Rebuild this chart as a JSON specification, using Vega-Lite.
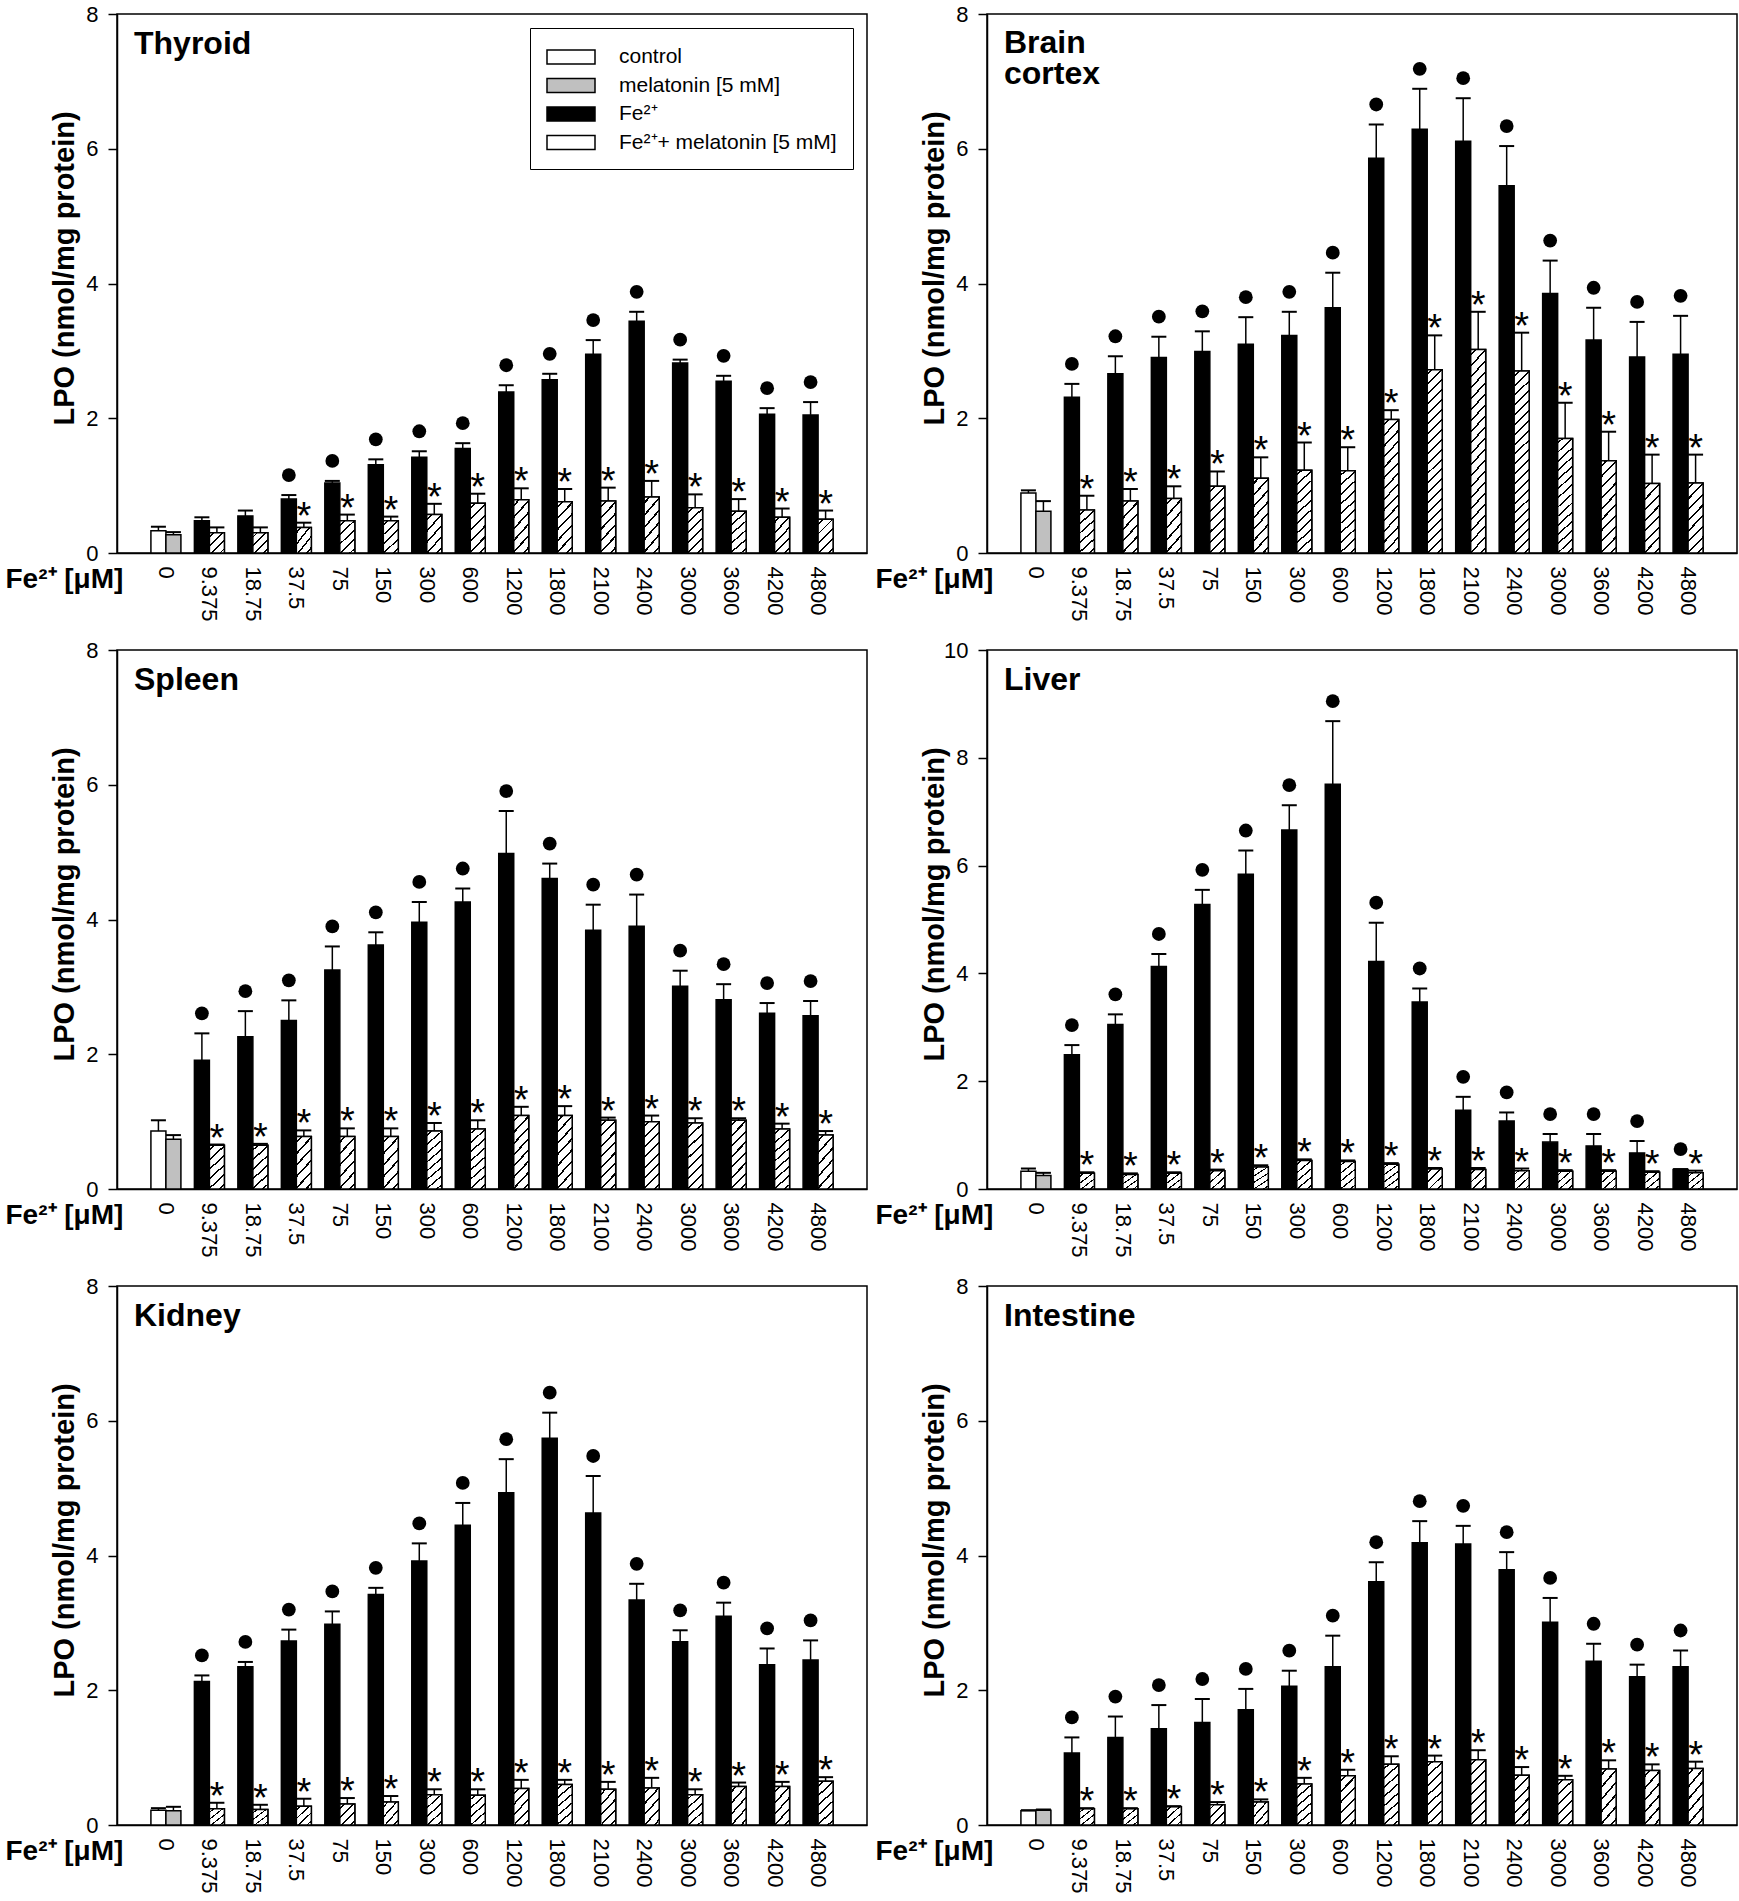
{
  "$schema": "https://vega.github.io/schema/vega-lite/v6.json",
  "description": "Fe2+ induced lipid peroxidation (LPO) in six rat tissues, with and without melatonin.",
  "padding": {"left": 4, "top": 2, "right": 2, "bottom": 0},
  "background": "white",
  "datasets": {
    "lpo": [
      {"organ":"Thyroid","conc":0,"group":"control","mel":"no","lpo":0.33,"hi":0.39,"sig":0},
      {"organ":"Thyroid","conc":0,"group":"melatonin [5 mM]","mel":"yes","lpo":0.27,"hi":0.31,"sig":0},
      {"organ":"Thyroid","conc":9.375,"group":"Fe²⁺","mel":"no","lpo":0.48,"hi":0.53,"sig":0},
      {"organ":"Thyroid","conc":9.375,"group":"Fe²⁺+ melatonin [5 mM]","mel":"yes","lpo":0.30,"hi":0.38,"sig":0},
      {"organ":"Thyroid","conc":18.75,"group":"Fe²⁺","mel":"no","lpo":0.55,"hi":0.63,"sig":0},
      {"organ":"Thyroid","conc":18.75,"group":"Fe²⁺+ melatonin [5 mM]","mel":"yes","lpo":0.30,"hi":0.38,"sig":0},
      {"organ":"Thyroid","conc":37.5,"group":"Fe²⁺","mel":"no","lpo":0.80,"hi":0.86,"sig":1},
      {"organ":"Thyroid","conc":37.5,"group":"Fe²⁺+ melatonin [5 mM]","mel":"yes","lpo":0.38,"hi":0.45,"sig":1},
      {"organ":"Thyroid","conc":75,"group":"Fe²⁺","mel":"no","lpo":1.04,"hi":1.07,"sig":1},
      {"organ":"Thyroid","conc":75,"group":"Fe²⁺+ melatonin [5 mM]","mel":"yes","lpo":0.48,"hi":0.57,"sig":1},
      {"organ":"Thyroid","conc":150,"group":"Fe²⁺","mel":"no","lpo":1.31,"hi":1.39,"sig":1},
      {"organ":"Thyroid","conc":150,"group":"Fe²⁺+ melatonin [5 mM]","mel":"yes","lpo":0.48,"hi":0.54,"sig":1},
      {"organ":"Thyroid","conc":300,"group":"Fe²⁺","mel":"no","lpo":1.42,"hi":1.51,"sig":1},
      {"organ":"Thyroid","conc":300,"group":"Fe²⁺+ melatonin [5 mM]","mel":"yes","lpo":0.57,"hi":0.73,"sig":1},
      {"organ":"Thyroid","conc":600,"group":"Fe²⁺","mel":"no","lpo":1.55,"hi":1.63,"sig":1},
      {"organ":"Thyroid","conc":600,"group":"Fe²⁺+ melatonin [5 mM]","mel":"yes","lpo":0.74,"hi":0.88,"sig":1},
      {"organ":"Thyroid","conc":1200,"group":"Fe²⁺","mel":"no","lpo":2.39,"hi":2.49,"sig":1},
      {"organ":"Thyroid","conc":1200,"group":"Fe²⁺+ melatonin [5 mM]","mel":"yes","lpo":0.79,"hi":0.96,"sig":1},
      {"organ":"Thyroid","conc":1800,"group":"Fe²⁺","mel":"no","lpo":2.57,"hi":2.66,"sig":1},
      {"organ":"Thyroid","conc":1800,"group":"Fe²⁺+ melatonin [5 mM]","mel":"yes","lpo":0.76,"hi":0.95,"sig":1},
      {"organ":"Thyroid","conc":2100,"group":"Fe²⁺","mel":"no","lpo":2.95,"hi":3.16,"sig":1},
      {"organ":"Thyroid","conc":2100,"group":"Fe²⁺+ melatonin [5 mM]","mel":"yes","lpo":0.77,"hi":0.97,"sig":1},
      {"organ":"Thyroid","conc":2400,"group":"Fe²⁺","mel":"no","lpo":3.44,"hi":3.58,"sig":1},
      {"organ":"Thyroid","conc":2400,"group":"Fe²⁺+ melatonin [5 mM]","mel":"yes","lpo":0.83,"hi":1.07,"sig":1},
      {"organ":"Thyroid","conc":3000,"group":"Fe²⁺","mel":"no","lpo":2.82,"hi":2.87,"sig":1},
      {"organ":"Thyroid","conc":3000,"group":"Fe²⁺+ melatonin [5 mM]","mel":"yes","lpo":0.67,"hi":0.87,"sig":1},
      {"organ":"Thyroid","conc":3600,"group":"Fe²⁺","mel":"no","lpo":2.55,"hi":2.63,"sig":1},
      {"organ":"Thyroid","conc":3600,"group":"Fe²⁺+ melatonin [5 mM]","mel":"yes","lpo":0.62,"hi":0.80,"sig":1},
      {"organ":"Thyroid","conc":4200,"group":"Fe²⁺","mel":"no","lpo":2.06,"hi":2.15,"sig":1},
      {"organ":"Thyroid","conc":4200,"group":"Fe²⁺+ melatonin [5 mM]","mel":"yes","lpo":0.53,"hi":0.66,"sig":1},
      {"organ":"Thyroid","conc":4800,"group":"Fe²⁺","mel":"no","lpo":2.05,"hi":2.24,"sig":1},
      {"organ":"Thyroid","conc":4800,"group":"Fe²⁺+ melatonin [5 mM]","mel":"yes","lpo":0.50,"hi":0.63,"sig":1},

      {"organ":"Brain cortex","conc":0,"group":"control","mel":"no","lpo":0.89,"hi":0.93,"sig":0},
      {"organ":"Brain cortex","conc":0,"group":"melatonin [5 mM]","mel":"yes","lpo":0.62,"hi":0.77,"sig":0},
      {"organ":"Brain cortex","conc":9.375,"group":"Fe²⁺","mel":"no","lpo":2.31,"hi":2.51,"sig":1},
      {"organ":"Brain cortex","conc":9.375,"group":"Fe²⁺+ melatonin [5 mM]","mel":"yes","lpo":0.64,"hi":0.85,"sig":1},
      {"organ":"Brain cortex","conc":18.75,"group":"Fe²⁺","mel":"no","lpo":2.66,"hi":2.92,"sig":1},
      {"organ":"Brain cortex","conc":18.75,"group":"Fe²⁺+ melatonin [5 mM]","mel":"yes","lpo":0.77,"hi":0.95,"sig":1},
      {"organ":"Brain cortex","conc":37.5,"group":"Fe²⁺","mel":"no","lpo":2.90,"hi":3.21,"sig":1},
      {"organ":"Brain cortex","conc":37.5,"group":"Fe²⁺+ melatonin [5 mM]","mel":"yes","lpo":0.81,"hi":0.99,"sig":1},
      {"organ":"Brain cortex","conc":75,"group":"Fe²⁺","mel":"no","lpo":2.99,"hi":3.29,"sig":1},
      {"organ":"Brain cortex","conc":75,"group":"Fe²⁺+ melatonin [5 mM]","mel":"yes","lpo":0.99,"hi":1.21,"sig":1},
      {"organ":"Brain cortex","conc":150,"group":"Fe²⁺","mel":"no","lpo":3.10,"hi":3.50,"sig":1},
      {"organ":"Brain cortex","conc":150,"group":"Fe²⁺+ melatonin [5 mM]","mel":"yes","lpo":1.11,"hi":1.42,"sig":1},
      {"organ":"Brain cortex","conc":300,"group":"Fe²⁺","mel":"no","lpo":3.23,"hi":3.58,"sig":1},
      {"organ":"Brain cortex","conc":300,"group":"Fe²⁺+ melatonin [5 mM]","mel":"yes","lpo":1.23,"hi":1.64,"sig":1},
      {"organ":"Brain cortex","conc":600,"group":"Fe²⁺","mel":"no","lpo":3.64,"hi":4.16,"sig":1},
      {"organ":"Brain cortex","conc":600,"group":"Fe²⁺+ melatonin [5 mM]","mel":"yes","lpo":1.22,"hi":1.57,"sig":1},
      {"organ":"Brain cortex","conc":1200,"group":"Fe²⁺","mel":"no","lpo":5.86,"hi":6.36,"sig":1},
      {"organ":"Brain cortex","conc":1200,"group":"Fe²⁺+ melatonin [5 mM]","mel":"yes","lpo":1.98,"hi":2.12,"sig":1},
      {"organ":"Brain cortex","conc":1800,"group":"Fe²⁺","mel":"no","lpo":6.29,"hi":6.89,"sig":1},
      {"organ":"Brain cortex","conc":1800,"group":"Fe²⁺+ melatonin [5 mM]","mel":"yes","lpo":2.72,"hi":3.23,"sig":1},
      {"organ":"Brain cortex","conc":2100,"group":"Fe²⁺","mel":"no","lpo":6.11,"hi":6.75,"sig":1},
      {"organ":"Brain cortex","conc":2100,"group":"Fe²⁺+ melatonin [5 mM]","mel":"yes","lpo":3.02,"hi":3.58,"sig":1},
      {"organ":"Brain cortex","conc":2400,"group":"Fe²⁺","mel":"no","lpo":5.45,"hi":6.04,"sig":1},
      {"organ":"Brain cortex","conc":2400,"group":"Fe²⁺+ melatonin [5 mM]","mel":"yes","lpo":2.70,"hi":3.27,"sig":1},
      {"organ":"Brain cortex","conc":3000,"group":"Fe²⁺","mel":"no","lpo":3.85,"hi":4.34,"sig":1},
      {"organ":"Brain cortex","conc":3000,"group":"Fe²⁺+ melatonin [5 mM]","mel":"yes","lpo":1.70,"hi":2.23,"sig":1},
      {"organ":"Brain cortex","conc":3600,"group":"Fe²⁺","mel":"no","lpo":3.16,"hi":3.64,"sig":1},
      {"organ":"Brain cortex","conc":3600,"group":"Fe²⁺+ melatonin [5 mM]","mel":"yes","lpo":1.37,"hi":1.80,"sig":1},
      {"organ":"Brain cortex","conc":4200,"group":"Fe²⁺","mel":"no","lpo":2.91,"hi":3.43,"sig":1},
      {"organ":"Brain cortex","conc":4200,"group":"Fe²⁺+ melatonin [5 mM]","mel":"yes","lpo":1.03,"hi":1.46,"sig":1},
      {"organ":"Brain cortex","conc":4800,"group":"Fe²⁺","mel":"no","lpo":2.95,"hi":3.52,"sig":1},
      {"organ":"Brain cortex","conc":4800,"group":"Fe²⁺+ melatonin [5 mM]","mel":"yes","lpo":1.04,"hi":1.46,"sig":1},

      {"organ":"Spleen","conc":0,"group":"control","mel":"no","lpo":0.86,"hi":1.02,"sig":0},
      {"organ":"Spleen","conc":0,"group":"melatonin [5 mM]","mel":"yes","lpo":0.74,"hi":0.80,"sig":0},
      {"organ":"Spleen","conc":9.375,"group":"Fe²⁺","mel":"no","lpo":1.91,"hi":2.31,"sig":1},
      {"organ":"Spleen","conc":9.375,"group":"Fe²⁺+ melatonin [5 mM]","mel":"yes","lpo":0.65,"hi":0.66,"sig":1},
      {"organ":"Spleen","conc":18.75,"group":"Fe²⁺","mel":"no","lpo":2.26,"hi":2.64,"sig":1},
      {"organ":"Spleen","conc":18.75,"group":"Fe²⁺+ melatonin [5 mM]","mel":"yes","lpo":0.65,"hi":0.67,"sig":1},
      {"organ":"Spleen","conc":37.5,"group":"Fe²⁺","mel":"no","lpo":2.50,"hi":2.80,"sig":1},
      {"organ":"Spleen","conc":37.5,"group":"Fe²⁺+ melatonin [5 mM]","mel":"yes","lpo":0.78,"hi":0.87,"sig":1},
      {"organ":"Spleen","conc":75,"group":"Fe²⁺","mel":"no","lpo":3.25,"hi":3.60,"sig":1},
      {"organ":"Spleen","conc":75,"group":"Fe²⁺+ melatonin [5 mM]","mel":"yes","lpo":0.78,"hi":0.90,"sig":1},
      {"organ":"Spleen","conc":150,"group":"Fe²⁺","mel":"no","lpo":3.62,"hi":3.81,"sig":1},
      {"organ":"Spleen","conc":150,"group":"Fe²⁺+ melatonin [5 mM]","mel":"yes","lpo":0.78,"hi":0.90,"sig":1},
      {"organ":"Spleen","conc":300,"group":"Fe²⁺","mel":"no","lpo":3.96,"hi":4.26,"sig":1},
      {"organ":"Spleen","conc":300,"group":"Fe²⁺+ melatonin [5 mM]","mel":"yes","lpo":0.86,"hi":0.98,"sig":1},
      {"organ":"Spleen","conc":600,"group":"Fe²⁺","mel":"no","lpo":4.26,"hi":4.46,"sig":1},
      {"organ":"Spleen","conc":600,"group":"Fe²⁺+ melatonin [5 mM]","mel":"yes","lpo":0.89,"hi":1.02,"sig":1},
      {"organ":"Spleen","conc":1200,"group":"Fe²⁺","mel":"no","lpo":4.98,"hi":5.61,"sig":1},
      {"organ":"Spleen","conc":1200,"group":"Fe²⁺+ melatonin [5 mM]","mel":"yes","lpo":1.09,"hi":1.22,"sig":1},
      {"organ":"Spleen","conc":1800,"group":"Fe²⁺","mel":"no","lpo":4.61,"hi":4.83,"sig":1},
      {"organ":"Spleen","conc":1800,"group":"Fe²⁺+ melatonin [5 mM]","mel":"yes","lpo":1.09,"hi":1.23,"sig":1},
      {"organ":"Spleen","conc":2100,"group":"Fe²⁺","mel":"no","lpo":3.84,"hi":4.22,"sig":1},
      {"organ":"Spleen","conc":2100,"group":"Fe²⁺+ melatonin [5 mM]","mel":"yes","lpo":1.02,"hi":1.06,"sig":1},
      {"organ":"Spleen","conc":2400,"group":"Fe²⁺","mel":"no","lpo":3.90,"hi":4.37,"sig":1},
      {"organ":"Spleen","conc":2400,"group":"Fe²⁺+ melatonin [5 mM]","mel":"yes","lpo":1.00,"hi":1.09,"sig":1},
      {"organ":"Spleen","conc":3000,"group":"Fe²⁺","mel":"no","lpo":3.01,"hi":3.24,"sig":1},
      {"organ":"Spleen","conc":3000,"group":"Fe²⁺+ melatonin [5 mM]","mel":"yes","lpo":0.98,"hi":1.05,"sig":1},
      {"organ":"Spleen","conc":3600,"group":"Fe²⁺","mel":"no","lpo":2.81,"hi":3.04,"sig":1},
      {"organ":"Spleen","conc":3600,"group":"Fe²⁺+ melatonin [5 mM]","mel":"yes","lpo":1.02,"hi":1.05,"sig":1},
      {"organ":"Spleen","conc":4200,"group":"Fe²⁺","mel":"no","lpo":2.61,"hi":2.76,"sig":1},
      {"organ":"Spleen","conc":4200,"group":"Fe²⁺+ melatonin [5 mM]","mel":"yes","lpo":0.89,"hi":0.97,"sig":1},
      {"organ":"Spleen","conc":4800,"group":"Fe²⁺","mel":"no","lpo":2.57,"hi":2.79,"sig":1},
      {"organ":"Spleen","conc":4800,"group":"Fe²⁺+ melatonin [5 mM]","mel":"yes","lpo":0.80,"hi":0.86,"sig":1},

      {"organ":"Liver","conc":0,"group":"control","mel":"no","lpo":0.33,"hi":0.38,"sig":0},
      {"organ":"Liver","conc":0,"group":"melatonin [5 mM]","mel":"yes","lpo":0.25,"hi":0.30,"sig":0},
      {"organ":"Liver","conc":9.375,"group":"Fe²⁺","mel":"no","lpo":2.49,"hi":2.67,"sig":1},
      {"organ":"Liver","conc":9.375,"group":"Fe²⁺+ melatonin [5 mM]","mel":"yes","lpo":0.29,"hi":0.31,"sig":1},
      {"organ":"Liver","conc":18.75,"group":"Fe²⁺","mel":"no","lpo":3.05,"hi":3.24,"sig":1},
      {"organ":"Liver","conc":18.75,"group":"Fe²⁺+ melatonin [5 mM]","mel":"yes","lpo":0.27,"hi":0.29,"sig":1},
      {"organ":"Liver","conc":37.5,"group":"Fe²⁺","mel":"no","lpo":4.13,"hi":4.36,"sig":1},
      {"organ":"Liver","conc":37.5,"group":"Fe²⁺+ melatonin [5 mM]","mel":"yes","lpo":0.29,"hi":0.31,"sig":1},
      {"organ":"Liver","conc":75,"group":"Fe²⁺","mel":"no","lpo":5.28,"hi":5.55,"sig":1},
      {"organ":"Liver","conc":75,"group":"Fe²⁺+ melatonin [5 mM]","mel":"yes","lpo":0.34,"hi":0.36,"sig":1},
      {"organ":"Liver","conc":150,"group":"Fe²⁺","mel":"no","lpo":5.84,"hi":6.28,"sig":1},
      {"organ":"Liver","conc":150,"group":"Fe²⁺+ melatonin [5 mM]","mel":"yes","lpo":0.41,"hi":0.44,"sig":1},
      {"organ":"Liver","conc":300,"group":"Fe²⁺","mel":"no","lpo":6.66,"hi":7.12,"sig":1},
      {"organ":"Liver","conc":300,"group":"Fe²⁺+ melatonin [5 mM]","mel":"yes","lpo":0.53,"hi":0.55,"sig":1},
      {"organ":"Liver","conc":600,"group":"Fe²⁺","mel":"no","lpo":7.51,"hi":8.68,"sig":1},
      {"organ":"Liver","conc":600,"group":"Fe²⁺+ melatonin [5 mM]","mel":"yes","lpo":0.51,"hi":0.53,"sig":1},
      {"organ":"Liver","conc":1200,"group":"Fe²⁺","mel":"no","lpo":4.22,"hi":4.94,"sig":1},
      {"organ":"Liver","conc":1200,"group":"Fe²⁺+ melatonin [5 mM]","mel":"yes","lpo":0.46,"hi":0.48,"sig":1},
      {"organ":"Liver","conc":1800,"group":"Fe²⁺","mel":"no","lpo":3.47,"hi":3.72,"sig":1},
      {"organ":"Liver","conc":1800,"group":"Fe²⁺+ melatonin [5 mM]","mel":"yes","lpo":0.37,"hi":0.39,"sig":1},
      {"organ":"Liver","conc":2100,"group":"Fe²⁺","mel":"no","lpo":1.46,"hi":1.71,"sig":1},
      {"organ":"Liver","conc":2100,"group":"Fe²⁺+ melatonin [5 mM]","mel":"yes","lpo":0.36,"hi":0.39,"sig":1},
      {"organ":"Liver","conc":2400,"group":"Fe²⁺","mel":"no","lpo":1.26,"hi":1.42,"sig":1},
      {"organ":"Liver","conc":2400,"group":"Fe²⁺+ melatonin [5 mM]","mel":"yes","lpo":0.34,"hi":0.38,"sig":1},
      {"organ":"Liver","conc":3000,"group":"Fe²⁺","mel":"no","lpo":0.87,"hi":1.02,"sig":1},
      {"organ":"Liver","conc":3000,"group":"Fe²⁺+ melatonin [5 mM]","mel":"yes","lpo":0.33,"hi":0.35,"sig":1},
      {"organ":"Liver","conc":3600,"group":"Fe²⁺","mel":"no","lpo":0.80,"hi":1.02,"sig":1},
      {"organ":"Liver","conc":3600,"group":"Fe²⁺+ melatonin [5 mM]","mel":"yes","lpo":0.33,"hi":0.35,"sig":1},
      {"organ":"Liver","conc":4200,"group":"Fe²⁺","mel":"no","lpo":0.67,"hi":0.89,"sig":1},
      {"organ":"Liver","conc":4200,"group":"Fe²⁺+ melatonin [5 mM]","mel":"yes","lpo":0.31,"hi":0.33,"sig":1},
      {"organ":"Liver","conc":4800,"group":"Fe²⁺","mel":"no","lpo":0.36,"hi":0.37,"sig":1},
      {"organ":"Liver","conc":4800,"group":"Fe²⁺+ melatonin [5 mM]","mel":"yes","lpo":0.30,"hi":0.34,"sig":1},

      {"organ":"Kidney","conc":0,"group":"control","mel":"no","lpo":0.22,"hi":0.25,"sig":0},
      {"organ":"Kidney","conc":0,"group":"melatonin [5 mM]","mel":"yes","lpo":0.21,"hi":0.27,"sig":0},
      {"organ":"Kidney","conc":9.375,"group":"Fe²⁺","mel":"no","lpo":2.13,"hi":2.22,"sig":1},
      {"organ":"Kidney","conc":9.375,"group":"Fe²⁺+ melatonin [5 mM]","mel":"yes","lpo":0.24,"hi":0.33,"sig":1},
      {"organ":"Kidney","conc":18.75,"group":"Fe²⁺","mel":"no","lpo":2.35,"hi":2.42,"sig":1},
      {"organ":"Kidney","conc":18.75,"group":"Fe²⁺+ melatonin [5 mM]","mel":"yes","lpo":0.23,"hi":0.30,"sig":1},
      {"organ":"Kidney","conc":37.5,"group":"Fe²⁺","mel":"no","lpo":2.73,"hi":2.90,"sig":1},
      {"organ":"Kidney","conc":37.5,"group":"Fe²⁺+ melatonin [5 mM]","mel":"yes","lpo":0.28,"hi":0.39,"sig":1},
      {"organ":"Kidney","conc":75,"group":"Fe²⁺","mel":"no","lpo":2.98,"hi":3.17,"sig":1},
      {"organ":"Kidney","conc":75,"group":"Fe²⁺+ melatonin [5 mM]","mel":"yes","lpo":0.31,"hi":0.40,"sig":1},
      {"organ":"Kidney","conc":150,"group":"Fe²⁺","mel":"no","lpo":3.42,"hi":3.52,"sig":1},
      {"organ":"Kidney","conc":150,"group":"Fe²⁺+ melatonin [5 mM]","mel":"yes","lpo":0.34,"hi":0.43,"sig":1},
      {"organ":"Kidney","conc":300,"group":"Fe²⁺","mel":"no","lpo":3.92,"hi":4.18,"sig":1},
      {"organ":"Kidney","conc":300,"group":"Fe²⁺+ melatonin [5 mM]","mel":"yes","lpo":0.45,"hi":0.53,"sig":1},
      {"organ":"Kidney","conc":600,"group":"Fe²⁺","mel":"no","lpo":4.45,"hi":4.78,"sig":1},
      {"organ":"Kidney","conc":600,"group":"Fe²⁺+ melatonin [5 mM]","mel":"yes","lpo":0.44,"hi":0.53,"sig":1},
      {"organ":"Kidney","conc":1200,"group":"Fe²⁺","mel":"no","lpo":4.93,"hi":5.43,"sig":1},
      {"organ":"Kidney","conc":1200,"group":"Fe²⁺+ melatonin [5 mM]","mel":"yes","lpo":0.54,"hi":0.67,"sig":1},
      {"organ":"Kidney","conc":1800,"group":"Fe²⁺","mel":"no","lpo":5.74,"hi":6.12,"sig":1},
      {"organ":"Kidney","conc":1800,"group":"Fe²⁺+ melatonin [5 mM]","mel":"yes","lpo":0.60,"hi":0.67,"sig":1},
      {"organ":"Kidney","conc":2100,"group":"Fe²⁺","mel":"no","lpo":4.63,"hi":5.18,"sig":1},
      {"organ":"Kidney","conc":2100,"group":"Fe²⁺+ melatonin [5 mM]","mel":"yes","lpo":0.53,"hi":0.64,"sig":1},
      {"organ":"Kidney","conc":2400,"group":"Fe²⁺","mel":"no","lpo":3.34,"hi":3.58,"sig":1},
      {"organ":"Kidney","conc":2400,"group":"Fe²⁺+ melatonin [5 mM]","mel":"yes","lpo":0.55,"hi":0.70,"sig":1},
      {"organ":"Kidney","conc":3000,"group":"Fe²⁺","mel":"no","lpo":2.72,"hi":2.89,"sig":1},
      {"organ":"Kidney","conc":3000,"group":"Fe²⁺+ melatonin [5 mM]","mel":"yes","lpo":0.45,"hi":0.53,"sig":1},
      {"organ":"Kidney","conc":3600,"group":"Fe²⁺","mel":"no","lpo":3.10,"hi":3.30,"sig":1},
      {"organ":"Kidney","conc":3600,"group":"Fe²⁺+ melatonin [5 mM]","mel":"yes","lpo":0.57,"hi":0.63,"sig":1},
      {"organ":"Kidney","conc":4200,"group":"Fe²⁺","mel":"no","lpo":2.38,"hi":2.62,"sig":1},
      {"organ":"Kidney","conc":4200,"group":"Fe²⁺+ melatonin [5 mM]","mel":"yes","lpo":0.57,"hi":0.64,"sig":1},
      {"organ":"Kidney","conc":4800,"group":"Fe²⁺","mel":"no","lpo":2.45,"hi":2.74,"sig":1},
      {"organ":"Kidney","conc":4800,"group":"Fe²⁺+ melatonin [5 mM]","mel":"yes","lpo":0.65,"hi":0.71,"sig":1},

      {"organ":"Intestine","conc":0,"group":"control","mel":"no","lpo":0.21,"hi":0.22,"sig":0},
      {"organ":"Intestine","conc":0,"group":"melatonin [5 mM]","mel":"yes","lpo":0.22,"hi":0.23,"sig":0},
      {"organ":"Intestine","conc":9.375,"group":"Fe²⁺","mel":"no","lpo":1.07,"hi":1.30,"sig":1},
      {"organ":"Intestine","conc":9.375,"group":"Fe²⁺+ melatonin [5 mM]","mel":"yes","lpo":0.24,"hi":0.25,"sig":1},
      {"organ":"Intestine","conc":18.75,"group":"Fe²⁺","mel":"no","lpo":1.30,"hi":1.61,"sig":1},
      {"organ":"Intestine","conc":18.75,"group":"Fe²⁺+ melatonin [5 mM]","mel":"yes","lpo":0.24,"hi":0.25,"sig":1},
      {"organ":"Intestine","conc":37.5,"group":"Fe²⁺","mel":"no","lpo":1.43,"hi":1.78,"sig":1},
      {"organ":"Intestine","conc":37.5,"group":"Fe²⁺+ melatonin [5 mM]","mel":"yes","lpo":0.27,"hi":0.28,"sig":1},
      {"organ":"Intestine","conc":75,"group":"Fe²⁺","mel":"no","lpo":1.52,"hi":1.87,"sig":1},
      {"organ":"Intestine","conc":75,"group":"Fe²⁺+ melatonin [5 mM]","mel":"yes","lpo":0.30,"hi":0.34,"sig":1},
      {"organ":"Intestine","conc":150,"group":"Fe²⁺","mel":"no","lpo":1.71,"hi":2.02,"sig":1},
      {"organ":"Intestine","conc":150,"group":"Fe²⁺+ melatonin [5 mM]","mel":"yes","lpo":0.34,"hi":0.38,"sig":1},
      {"organ":"Intestine","conc":300,"group":"Fe²⁺","mel":"no","lpo":2.06,"hi":2.29,"sig":1},
      {"organ":"Intestine","conc":300,"group":"Fe²⁺+ melatonin [5 mM]","mel":"yes","lpo":0.61,"hi":0.70,"sig":1},
      {"organ":"Intestine","conc":600,"group":"Fe²⁺","mel":"no","lpo":2.35,"hi":2.81,"sig":1},
      {"organ":"Intestine","conc":600,"group":"Fe²⁺+ melatonin [5 mM]","mel":"yes","lpo":0.73,"hi":0.82,"sig":1},
      {"organ":"Intestine","conc":1200,"group":"Fe²⁺","mel":"no","lpo":3.61,"hi":3.90,"sig":1},
      {"organ":"Intestine","conc":1200,"group":"Fe²⁺+ melatonin [5 mM]","mel":"yes","lpo":0.90,"hi":1.02,"sig":1},
      {"organ":"Intestine","conc":1800,"group":"Fe²⁺","mel":"no","lpo":4.19,"hi":4.51,"sig":1},
      {"organ":"Intestine","conc":1800,"group":"Fe²⁺+ melatonin [5 mM]","mel":"yes","lpo":0.94,"hi":1.03,"sig":1},
      {"organ":"Intestine","conc":2100,"group":"Fe²⁺","mel":"no","lpo":4.17,"hi":4.44,"sig":1},
      {"organ":"Intestine","conc":2100,"group":"Fe²⁺+ melatonin [5 mM]","mel":"yes","lpo":0.97,"hi":1.11,"sig":1},
      {"organ":"Intestine","conc":2400,"group":"Fe²⁺","mel":"no","lpo":3.79,"hi":4.05,"sig":1},
      {"organ":"Intestine","conc":2400,"group":"Fe²⁺+ melatonin [5 mM]","mel":"yes","lpo":0.74,"hi":0.86,"sig":1},
      {"organ":"Intestine","conc":3000,"group":"Fe²⁺","mel":"no","lpo":3.01,"hi":3.37,"sig":1},
      {"organ":"Intestine","conc":3000,"group":"Fe²⁺+ melatonin [5 mM]","mel":"yes","lpo":0.67,"hi":0.73,"sig":1},
      {"organ":"Intestine","conc":3600,"group":"Fe²⁺","mel":"no","lpo":2.43,"hi":2.69,"sig":1},
      {"organ":"Intestine","conc":3600,"group":"Fe²⁺+ melatonin [5 mM]","mel":"yes","lpo":0.83,"hi":0.96,"sig":1},
      {"organ":"Intestine","conc":4200,"group":"Fe²⁺","mel":"no","lpo":2.20,"hi":2.38,"sig":1},
      {"organ":"Intestine","conc":4200,"group":"Fe²⁺+ melatonin [5 mM]","mel":"yes","lpo":0.81,"hi":0.90,"sig":1},
      {"organ":"Intestine","conc":4800,"group":"Fe²⁺","mel":"no","lpo":2.35,"hi":2.59,"sig":1},
      {"organ":"Intestine","conc":4800,"group":"Fe²⁺+ melatonin [5 mM]","mel":"yes","lpo":0.84,"hi":0.94,"sig":1}
    ]
  },
  "data": {"name": "lpo"},
  "columns": 2,
  "spacing": {"row": 97, "column": 120},
  "bounds": "flush",
  "resolve": {"scale": {"x": "independent", "y": "independent", "fill": "independent"}, "legend": {"fill": "independent"}},
  "concat": [
    {
      "width": 750, "height": 539,
      "title": {"text": "Thyroid", "offset": -58},
      "transform": [{"filter": "datum.organ == 'Thyroid'"}],
      "encoding": {
        "x": {"field": "conc", "type": "ordinal", "title": "Fe²⁺ [μM]", "scale": {"paddingInner": 0.31, "paddingOuter": 0.78}},
        "xOffset": {"field": "mel", "type": "nominal", "scale": {"domain": ["no", "yes"]}}
      },
      "layer": [
        {"mark": {"type": "bar", "stroke": "black", "strokeWidth": 1.5},
         "encoding": {
           "y": {"field": "lpo", "type": "quantitative", "title": "LPO (nmol/mg protein)", "scale": {"domain": [0, 8], "nice": false}, "axis": {"values": [0, 2, 4, 6, 8]}},
           "fill": {"field": "group", "type": "nominal",
             "scale": {"domain": ["control", "melatonin [5 mM]", "Fe²⁺", "Fe²⁺+ melatonin [5 mM]"], "range": ["#ffffff", "#c0c0c0", "#000000", "#ffffff"]},
             "legend": {"orient": "top-right", "offset": 14, "title": null,
               "symbolType": "M-2,-0.58H2V0.58H-2Z", "symbolSize": 576, "symbolOffset": 12,
               "symbolStrokeColor": "black", "symbolStrokeWidth": 1.5, "symbolOpacity": 1,
               "labelFontSize": 21, "labelColor": "black", "labelOffset": 35, "labelLimit": 400,
               "rowPadding": 5.5, "padding": 16, "strokeColor": "black", "fillColor": "white",
               "encode": {"symbols": {"update": {
                 "stroke": {"value": "black"}, "strokeWidth": {"value": 1.5}, "opacity": {"value": 1},
                 "fill": {"condition": [
                   {"test": "datum.value === 'Fe²⁺+ melatonin [5 mM]'", "value": {"gradient": "linear", "x1": 0, "y1": 1, "x2": 1.19, "y2": 0.652, "stops": [
                     {"offset":0,"color":"#fff"},
                     {"offset":0.04,"color":"#fff"},{"offset":0.04,"color":"#000"},{"offset":0.06,"color":"#000"},{"offset":0.06,"color":"#fff"},
                     {"offset":0.14,"color":"#fff"},{"offset":0.14,"color":"#000"},{"offset":0.16,"color":"#000"},{"offset":0.16,"color":"#fff"},
                     {"offset":0.24,"color":"#fff"},{"offset":0.24,"color":"#000"},{"offset":0.26,"color":"#000"},{"offset":0.26,"color":"#fff"},
                     {"offset":0.34,"color":"#fff"},{"offset":0.34,"color":"#000"},{"offset":0.36,"color":"#000"},{"offset":0.36,"color":"#fff"},
                     {"offset":0.44,"color":"#fff"},{"offset":0.44,"color":"#000"},{"offset":0.46,"color":"#000"},{"offset":0.46,"color":"#fff"},
                     {"offset":0.54,"color":"#fff"},{"offset":0.54,"color":"#000"},{"offset":0.56,"color":"#000"},{"offset":0.56,"color":"#fff"},
                     {"offset":0.64,"color":"#fff"},{"offset":0.64,"color":"#000"},{"offset":0.66,"color":"#000"},{"offset":0.66,"color":"#fff"},
                     {"offset":0.74,"color":"#fff"},{"offset":0.74,"color":"#000"},{"offset":0.76,"color":"#000"},{"offset":0.76,"color":"#fff"},
                     {"offset":0.84,"color":"#fff"},{"offset":0.84,"color":"#000"},{"offset":0.86,"color":"#000"},{"offset":0.86,"color":"#fff"},
                     {"offset":0.94,"color":"#fff"},{"offset":0.94,"color":"#000"},{"offset":0.96,"color":"#000"},{"offset":0.96,"color":"#fff"},
                     {"offset":1,"color":"#fff"}]}},
                   {"test": "datum.value === 'Fe²⁺'", "value": "#000000"},
                   {"test": "datum.value === 'melatonin [5 mM]'", "value": "#c0c0c0"}
                 ], "value": "#ffffff"}}}}}}
         }},
        {"transform": [{"filter": "datum.mel == 'yes' && datum.conc > 0 && datum.lpo < 0.4"}],
         "mark": {"type": "bar", "stroke": "black", "strokeWidth": 1.5, "fill": {"gradient": "linear", "x1": 0, "y1": 0, "x2": 0.833, "y2": 1.124, "stops": [
          {"offset":0,"color":"#fff"},
          {"offset":0.1,"color":"#fff"},{"offset":0.1,"color":"#000"},{"offset":0.15,"color":"#000"},{"offset":0.15,"color":"#fff"},
          {"offset":0.35,"color":"#fff"},{"offset":0.35,"color":"#000"},{"offset":0.4,"color":"#000"},{"offset":0.4,"color":"#fff"},
          {"offset":0.6,"color":"#fff"},{"offset":0.6,"color":"#000"},{"offset":0.65,"color":"#000"},{"offset":0.65,"color":"#fff"},
          {"offset":0.85,"color":"#fff"},{"offset":0.85,"color":"#000"},{"offset":0.9,"color":"#000"},{"offset":0.9,"color":"#fff"},
          {"offset":1,"color":"#fff"}]}},
         "encoding": {"y": {"field": "lpo", "type": "quantitative", "title": "LPO (nmol/mg protein)"}}},
        {"transform": [{"filter": "datum.mel == 'yes' && datum.conc > 0 && datum.lpo >= 0.4 && datum.lpo < 0.6"}],
         "mark": {"type": "bar", "stroke": "black", "strokeWidth": 1.5, "fill": {"gradient": "linear", "x1": 0, "y1": 0, "x2": 0.536, "y2": 1.206, "stops": [
          {"offset":0,"color":"#fff"},
          {"offset":0.08,"color":"#fff"},{"offset":0.08,"color":"#000"},{"offset":0.12,"color":"#000"},{"offset":0.12,"color":"#fff"},
          {"offset":0.28,"color":"#fff"},{"offset":0.28,"color":"#000"},{"offset":0.32,"color":"#000"},{"offset":0.32,"color":"#fff"},
          {"offset":0.48,"color":"#fff"},{"offset":0.48,"color":"#000"},{"offset":0.52,"color":"#000"},{"offset":0.52,"color":"#fff"},
          {"offset":0.68,"color":"#fff"},{"offset":0.68,"color":"#000"},{"offset":0.72,"color":"#000"},{"offset":0.72,"color":"#fff"},
          {"offset":0.88,"color":"#fff"},{"offset":0.88,"color":"#000"},{"offset":0.92,"color":"#000"},{"offset":0.92,"color":"#fff"},
          {"offset":1,"color":"#fff"}]}},
         "encoding": {"y": {"field": "lpo", "type": "quantitative", "title": "LPO (nmol/mg protein)"}}},
        {"transform": [{"filter": "datum.mel == 'yes' && datum.conc > 0 && datum.lpo >= 0.6"}],
         "mark": {"type": "bar", "stroke": "black", "strokeWidth": 1.5, "fill": {"gradient": "linear", "x1": 0, "y1": 0, "x2": 0.374, "y2": 1.196, "stops": [
          {"offset":0,"color":"#fff"},
          {"offset":0.067,"color":"#fff"},{"offset":0.067,"color":"#000"},{"offset":0.1,"color":"#000"},{"offset":0.1,"color":"#fff"},
          {"offset":0.233,"color":"#fff"},{"offset":0.233,"color":"#000"},{"offset":0.267,"color":"#000"},{"offset":0.267,"color":"#fff"},
          {"offset":0.4,"color":"#fff"},{"offset":0.4,"color":"#000"},{"offset":0.433,"color":"#000"},{"offset":0.433,"color":"#fff"},
          {"offset":0.567,"color":"#fff"},{"offset":0.567,"color":"#000"},{"offset":0.6,"color":"#000"},{"offset":0.6,"color":"#fff"},
          {"offset":0.733,"color":"#fff"},{"offset":0.733,"color":"#000"},{"offset":0.767,"color":"#000"},{"offset":0.767,"color":"#fff"},
          {"offset":0.9,"color":"#fff"},{"offset":0.9,"color":"#000"},{"offset":0.933,"color":"#000"},{"offset":0.933,"color":"#fff"},
          {"offset":1,"color":"#fff"}]}},
         "encoding": {"y": {"field": "lpo", "type": "quantitative", "title": "LPO (nmol/mg protein)"}}},
        {"mark": {"type": "rule", "color": "black", "strokeWidth": 1.5}, "encoding": {"y": {"field": "lpo", "type": "quantitative", "title": "LPO (nmol/mg protein)"}, "y2": {"field": "hi"}}},
        {"mark": {"type": "tick", "color": "black", "thickness": 2, "size": 15, "opacity": 1}, "encoding": {"y": {"field": "hi", "type": "quantitative", "title": "LPO (nmol/mg protein)"}}},
        {"transform": [{"filter": "datum.sig == 1 && datum.mel == 'no'"}], "mark": {"type": "point", "shape": "circle", "filled": true, "color": "black", "opacity": 1, "size": 190, "yOffset": -20}, "encoding": {"y": {"field": "hi", "type": "quantitative", "title": "LPO (nmol/mg protein)"}}},
        {"transform": [{"filter": "datum.sig == 1 && datum.mel == 'yes'"}], "mark": {"type": "text", "text": "*", "fontSize": 38, "baseline": "alphabetic", "dy": 6, "color": "black"}, "encoding": {"y": {"field": "hi", "type": "quantitative", "title": "LPO (nmol/mg protein)"}}}
      ]
    },
    {
      "width": 750, "height": 539,
      "title": {"text": ["Brain", "cortex"], "offset": -88},
      "transform": [{"filter": "datum.organ == 'Brain cortex'"}],
      "encoding": {
        "x": {"field": "conc", "type": "ordinal", "title": "Fe²⁺ [μM]", "scale": {"paddingInner": 0.31, "paddingOuter": 0.78}},
        "xOffset": {"field": "mel", "type": "nominal", "scale": {"domain": ["no", "yes"]}}
      },
      "layer": [
        {"mark": {"type": "bar", "stroke": "black", "strokeWidth": 1.5},
         "encoding": {
           "y": {"field": "lpo", "type": "quantitative", "title": "LPO (nmol/mg protein)", "scale": {"domain": [0, 8], "nice": false}, "axis": {"values": [0, 2, 4, 6, 8]}},
           "fill": {"field": "group", "type": "nominal", "scale": {"domain": ["control", "melatonin [5 mM]", "Fe²⁺", "Fe²⁺+ melatonin [5 mM]"], "range": ["#ffffff", "#c0c0c0", "#000000", "#ffffff"]}, "legend": null}
         }},
        {"transform": [{"filter": "datum.mel == 'yes' && datum.conc > 0 && datum.lpo < 0.85"}],
         "mark": {"type": "bar", "stroke": "black", "strokeWidth": 1.5, "fill": {"gradient": "linear", "x1": 0, "y1": 0, "x2": 0.374, "y2": 1.196, "stops": [
          {"offset":0,"color":"#fff"},
          {"offset":0.067,"color":"#fff"},{"offset":0.067,"color":"#000"},{"offset":0.1,"color":"#000"},{"offset":0.1,"color":"#fff"},
          {"offset":0.233,"color":"#fff"},{"offset":0.233,"color":"#000"},{"offset":0.267,"color":"#000"},{"offset":0.267,"color":"#fff"},
          {"offset":0.4,"color":"#fff"},{"offset":0.4,"color":"#000"},{"offset":0.433,"color":"#000"},{"offset":0.433,"color":"#fff"},
          {"offset":0.567,"color":"#fff"},{"offset":0.567,"color":"#000"},{"offset":0.6,"color":"#000"},{"offset":0.6,"color":"#fff"},
          {"offset":0.733,"color":"#fff"},{"offset":0.733,"color":"#000"},{"offset":0.767,"color":"#000"},{"offset":0.767,"color":"#fff"},
          {"offset":0.9,"color":"#fff"},{"offset":0.9,"color":"#000"},{"offset":0.933,"color":"#000"},{"offset":0.933,"color":"#fff"},
          {"offset":1,"color":"#fff"}]}},
         "encoding": {"y": {"field": "lpo", "type": "quantitative", "title": "LPO (nmol/mg protein)"}}},
        {"transform": [{"filter": "datum.mel == 'yes' && datum.conc > 0 && datum.lpo >= 0.85 && datum.lpo < 1.15"}],
         "mark": {"type": "bar", "stroke": "black", "strokeWidth": 1.5, "fill": {"gradient": "linear", "x1": 0, "y1": 0, "x2": 0.259, "y2": 1.165, "stops": [
          {"offset":0,"color":"#fff"},
          {"offset":0.05,"color":"#fff"},{"offset":0.05,"color":"#000"},{"offset":0.075,"color":"#000"},{"offset":0.075,"color":"#fff"},
          {"offset":0.175,"color":"#fff"},{"offset":0.175,"color":"#000"},{"offset":0.2,"color":"#000"},{"offset":0.2,"color":"#fff"},
          {"offset":0.3,"color":"#fff"},{"offset":0.3,"color":"#000"},{"offset":0.325,"color":"#000"},{"offset":0.325,"color":"#fff"},
          {"offset":0.425,"color":"#fff"},{"offset":0.425,"color":"#000"},{"offset":0.45,"color":"#000"},{"offset":0.45,"color":"#fff"},
          {"offset":0.55,"color":"#fff"},{"offset":0.55,"color":"#000"},{"offset":0.575,"color":"#000"},{"offset":0.575,"color":"#fff"},
          {"offset":0.675,"color":"#fff"},{"offset":0.675,"color":"#000"},{"offset":0.7,"color":"#000"},{"offset":0.7,"color":"#fff"},
          {"offset":0.8,"color":"#fff"},{"offset":0.8,"color":"#000"},{"offset":0.825,"color":"#000"},{"offset":0.825,"color":"#fff"},
          {"offset":0.925,"color":"#fff"},{"offset":0.925,"color":"#000"},{"offset":0.95,"color":"#000"},{"offset":0.95,"color":"#fff"},
          {"offset":1,"color":"#fff"}]}},
         "encoding": {"y": {"field": "lpo", "type": "quantitative", "title": "LPO (nmol/mg protein)"}}},
        {"transform": [{"filter": "datum.mel == 'yes' && datum.conc > 0 && datum.lpo >= 1.15 && datum.lpo < 1.5"}],
         "mark": {"type": "bar", "stroke": "black", "strokeWidth": 1.5, "fill": {"gradient": "linear", "x1": 0, "y1": 0, "x2": 0.193, "y2": 1.137, "stops": [
          {"offset":0,"color":"#fff"},
          {"offset":0.04,"color":"#fff"},{"offset":0.04,"color":"#000"},{"offset":0.06,"color":"#000"},{"offset":0.06,"color":"#fff"},
          {"offset":0.14,"color":"#fff"},{"offset":0.14,"color":"#000"},{"offset":0.16,"color":"#000"},{"offset":0.16,"color":"#fff"},
          {"offset":0.24,"color":"#fff"},{"offset":0.24,"color":"#000"},{"offset":0.26,"color":"#000"},{"offset":0.26,"color":"#fff"},
          {"offset":0.34,"color":"#fff"},{"offset":0.34,"color":"#000"},{"offset":0.36,"color":"#000"},{"offset":0.36,"color":"#fff"},
          {"offset":0.44,"color":"#fff"},{"offset":0.44,"color":"#000"},{"offset":0.46,"color":"#000"},{"offset":0.46,"color":"#fff"},
          {"offset":0.54,"color":"#fff"},{"offset":0.54,"color":"#000"},{"offset":0.56,"color":"#000"},{"offset":0.56,"color":"#fff"},
          {"offset":0.64,"color":"#fff"},{"offset":0.64,"color":"#000"},{"offset":0.66,"color":"#000"},{"offset":0.66,"color":"#fff"},
          {"offset":0.74,"color":"#fff"},{"offset":0.74,"color":"#000"},{"offset":0.76,"color":"#000"},{"offset":0.76,"color":"#fff"},
          {"offset":0.84,"color":"#fff"},{"offset":0.84,"color":"#000"},{"offset":0.86,"color":"#000"},{"offset":0.86,"color":"#fff"},
          {"offset":0.94,"color":"#fff"},{"offset":0.94,"color":"#000"},{"offset":0.96,"color":"#000"},{"offset":0.96,"color":"#fff"},
          {"offset":1,"color":"#fff"}]}},
         "encoding": {"y": {"field": "lpo", "type": "quantitative", "title": "LPO (nmol/mg protein)"}}},
        {"transform": [{"filter": "datum.mel == 'yes' && datum.conc > 0 && datum.lpo >= 1.5 && datum.lpo < 2.3"}],
         "mark": {"type": "bar", "stroke": "black", "strokeWidth": 1.5, "fill": {"gradient": "linear", "x1": 0, "y1": 0, "x2": 0.133, "y2": 1.104, "stops": [
          {"offset":0,"color":"#fff"},
          {"offset":0.029,"color":"#fff"},{"offset":0.029,"color":"#000"},{"offset":0.043,"color":"#000"},{"offset":0.043,"color":"#fff"},
          {"offset":0.1,"color":"#fff"},{"offset":0.1,"color":"#000"},{"offset":0.114,"color":"#000"},{"offset":0.114,"color":"#fff"},
          {"offset":0.171,"color":"#fff"},{"offset":0.171,"color":"#000"},{"offset":0.186,"color":"#000"},{"offset":0.186,"color":"#fff"},
          {"offset":0.243,"color":"#fff"},{"offset":0.243,"color":"#000"},{"offset":0.257,"color":"#000"},{"offset":0.257,"color":"#fff"},
          {"offset":0.314,"color":"#fff"},{"offset":0.314,"color":"#000"},{"offset":0.329,"color":"#000"},{"offset":0.329,"color":"#fff"},
          {"offset":0.386,"color":"#fff"},{"offset":0.386,"color":"#000"},{"offset":0.4,"color":"#000"},{"offset":0.4,"color":"#fff"},
          {"offset":0.457,"color":"#fff"},{"offset":0.457,"color":"#000"},{"offset":0.471,"color":"#000"},{"offset":0.471,"color":"#fff"},
          {"offset":0.529,"color":"#fff"},{"offset":0.529,"color":"#000"},{"offset":0.543,"color":"#000"},{"offset":0.543,"color":"#fff"},
          {"offset":0.6,"color":"#fff"},{"offset":0.6,"color":"#000"},{"offset":0.614,"color":"#000"},{"offset":0.614,"color":"#fff"},
          {"offset":0.671,"color":"#fff"},{"offset":0.671,"color":"#000"},{"offset":0.686,"color":"#000"},{"offset":0.686,"color":"#fff"},
          {"offset":0.743,"color":"#fff"},{"offset":0.743,"color":"#000"},{"offset":0.757,"color":"#000"},{"offset":0.757,"color":"#fff"},
          {"offset":0.814,"color":"#fff"},{"offset":0.814,"color":"#000"},{"offset":0.829,"color":"#000"},{"offset":0.829,"color":"#fff"},
          {"offset":0.886,"color":"#fff"},{"offset":0.886,"color":"#000"},{"offset":0.9,"color":"#000"},{"offset":0.9,"color":"#fff"},
          {"offset":0.957,"color":"#fff"},{"offset":0.957,"color":"#000"},{"offset":0.971,"color":"#000"},{"offset":0.971,"color":"#fff"},
          {"offset":1,"color":"#fff"}]}},
         "encoding": {"y": {"field": "lpo", "type": "quantitative", "title": "LPO (nmol/mg protein)"}}},
        {"transform": [{"filter": "datum.mel == 'yes' && datum.conc > 0 && datum.lpo >= 2.3"}],
         "mark": {"type": "bar", "stroke": "black", "strokeWidth": 1.5, "fill": {"gradient": "linear", "x1": 0, "y1": 0, "x2": 0.0873, "y2": 1.074, "stops": [
          {"offset":0,"color":"#fff"},
          {"offset":0.02,"color":"#fff"},{"offset":0.02,"color":"#000"},{"offset":0.03,"color":"#000"},{"offset":0.03,"color":"#fff"},
          {"offset":0.07,"color":"#fff"},{"offset":0.07,"color":"#000"},{"offset":0.08,"color":"#000"},{"offset":0.08,"color":"#fff"},
          {"offset":0.12,"color":"#fff"},{"offset":0.12,"color":"#000"},{"offset":0.13,"color":"#000"},{"offset":0.13,"color":"#fff"},
          {"offset":0.17,"color":"#fff"},{"offset":0.17,"color":"#000"},{"offset":0.18,"color":"#000"},{"offset":0.18,"color":"#fff"},
          {"offset":0.22,"color":"#fff"},{"offset":0.22,"color":"#000"},{"offset":0.23,"color":"#000"},{"offset":0.23,"color":"#fff"},
          {"offset":0.27,"color":"#fff"},{"offset":0.27,"color":"#000"},{"offset":0.28,"color":"#000"},{"offset":0.28,"color":"#fff"},
          {"offset":0.32,"color":"#fff"},{"offset":0.32,"color":"#000"},{"offset":0.33,"color":"#000"},{"offset":0.33,"color":"#fff"},
          {"offset":0.37,"color":"#fff"},{"offset":0.37,"color":"#000"},{"offset":0.38,"color":"#000"},{"offset":0.38,"color":"#fff"},
          {"offset":0.42,"color":"#fff"},{"offset":0.42,"color":"#000"},{"offset":0.43,"color":"#000"},{"offset":0.43,"color":"#fff"},
          {"offset":0.47,"color":"#fff"},{"offset":0.47,"color":"#000"},{"offset":0.48,"color":"#000"},{"offset":0.48,"color":"#fff"},
          {"offset":0.52,"color":"#fff"},{"offset":0.52,"color":"#000"},{"offset":0.53,"color":"#000"},{"offset":0.53,"color":"#fff"},
          {"offset":0.57,"color":"#fff"},{"offset":0.57,"color":"#000"},{"offset":0.58,"color":"#000"},{"offset":0.58,"color":"#fff"},
          {"offset":0.62,"color":"#fff"},{"offset":0.62,"color":"#000"},{"offset":0.63,"color":"#000"},{"offset":0.63,"color":"#fff"},
          {"offset":0.67,"color":"#fff"},{"offset":0.67,"color":"#000"},{"offset":0.68,"color":"#000"},{"offset":0.68,"color":"#fff"},
          {"offset":0.72,"color":"#fff"},{"offset":0.72,"color":"#000"},{"offset":0.73,"color":"#000"},{"offset":0.73,"color":"#fff"},
          {"offset":0.77,"color":"#fff"},{"offset":0.77,"color":"#000"},{"offset":0.78,"color":"#000"},{"offset":0.78,"color":"#fff"},
          {"offset":0.82,"color":"#fff"},{"offset":0.82,"color":"#000"},{"offset":0.83,"color":"#000"},{"offset":0.83,"color":"#fff"},
          {"offset":0.87,"color":"#fff"},{"offset":0.87,"color":"#000"},{"offset":0.88,"color":"#000"},{"offset":0.88,"color":"#fff"},
          {"offset":0.92,"color":"#fff"},{"offset":0.92,"color":"#000"},{"offset":0.93,"color":"#000"},{"offset":0.93,"color":"#fff"},
          {"offset":0.97,"color":"#fff"},{"offset":0.97,"color":"#000"},{"offset":0.98,"color":"#000"},{"offset":0.98,"color":"#fff"},
          {"offset":1,"color":"#fff"}]}},
         "encoding": {"y": {"field": "lpo", "type": "quantitative", "title": "LPO (nmol/mg protein)"}}},
        {"mark": {"type": "rule", "color": "black", "strokeWidth": 1.5}, "encoding": {"y": {"field": "lpo", "type": "quantitative", "title": "LPO (nmol/mg protein)"}, "y2": {"field": "hi"}}},
        {"mark": {"type": "tick", "color": "black", "thickness": 2, "size": 15, "opacity": 1}, "encoding": {"y": {"field": "hi", "type": "quantitative", "title": "LPO (nmol/mg protein)"}}},
        {"transform": [{"filter": "datum.sig == 1 && datum.mel == 'no'"}], "mark": {"type": "point", "shape": "circle", "filled": true, "color": "black", "opacity": 1, "size": 190, "yOffset": -20}, "encoding": {"y": {"field": "hi", "type": "quantitative", "title": "LPO (nmol/mg protein)"}}},
        {"transform": [{"filter": "datum.sig == 1 && datum.mel == 'yes'"}], "mark": {"type": "text", "text": "*", "fontSize": 38, "baseline": "alphabetic", "dy": 6, "color": "black"}, "encoding": {"y": {"field": "hi", "type": "quantitative", "title": "LPO (nmol/mg protein)"}}}
      ]
    },
    {
      "width": 750, "height": 539,
      "title": {"text": "Spleen", "offset": -58},
      "transform": [{"filter": "datum.organ == 'Spleen'"}],
      "encoding": {
        "x": {"field": "conc", "type": "ordinal", "title": "Fe²⁺ [μM]", "scale": {"paddingInner": 0.31, "paddingOuter": 0.78}},
        "xOffset": {"field": "mel", "type": "nominal", "scale": {"domain": ["no", "yes"]}}
      },
      "layer": [
        {"mark": {"type": "bar", "stroke": "black", "strokeWidth": 1.5},
         "encoding": {
           "y": {"field": "lpo", "type": "quantitative", "title": "LPO (nmol/mg protein)", "scale": {"domain": [0, 8], "nice": false}, "axis": {"values": [0, 2, 4, 6, 8]}},
           "fill": {"field": "group", "type": "nominal", "scale": {"domain": ["control", "melatonin [5 mM]", "Fe²⁺", "Fe²⁺+ melatonin [5 mM]"], "range": ["#ffffff", "#c0c0c0", "#000000", "#ffffff"]}, "legend": null}
         }},
        {"transform": [{"filter": "datum.mel == 'yes' && datum.conc > 0 && datum.lpo < 0.85"}],
         "mark": {"type": "bar", "stroke": "black", "strokeWidth": 1.5, "fill": {"gradient": "linear", "x1": 0, "y1": 0, "x2": 0.374, "y2": 1.196, "stops": [
          {"offset":0,"color":"#fff"},
          {"offset":0.067,"color":"#fff"},{"offset":0.067,"color":"#000"},{"offset":0.1,"color":"#000"},{"offset":0.1,"color":"#fff"},
          {"offset":0.233,"color":"#fff"},{"offset":0.233,"color":"#000"},{"offset":0.267,"color":"#000"},{"offset":0.267,"color":"#fff"},
          {"offset":0.4,"color":"#fff"},{"offset":0.4,"color":"#000"},{"offset":0.433,"color":"#000"},{"offset":0.433,"color":"#fff"},
          {"offset":0.567,"color":"#fff"},{"offset":0.567,"color":"#000"},{"offset":0.6,"color":"#000"},{"offset":0.6,"color":"#fff"},
          {"offset":0.733,"color":"#fff"},{"offset":0.733,"color":"#000"},{"offset":0.767,"color":"#000"},{"offset":0.767,"color":"#fff"},
          {"offset":0.9,"color":"#fff"},{"offset":0.9,"color":"#000"},{"offset":0.933,"color":"#000"},{"offset":0.933,"color":"#fff"},
          {"offset":1,"color":"#fff"}]}},
         "encoding": {"y": {"field": "lpo", "type": "quantitative", "title": "LPO (nmol/mg protein)"}}},
        {"transform": [{"filter": "datum.mel == 'yes' && datum.conc > 0 && datum.lpo >= 0.85"}],
         "mark": {"type": "bar", "stroke": "black", "strokeWidth": 1.5, "fill": {"gradient": "linear", "x1": 0, "y1": 0, "x2": 0.259, "y2": 1.165, "stops": [
          {"offset":0,"color":"#fff"},
          {"offset":0.05,"color":"#fff"},{"offset":0.05,"color":"#000"},{"offset":0.075,"color":"#000"},{"offset":0.075,"color":"#fff"},
          {"offset":0.175,"color":"#fff"},{"offset":0.175,"color":"#000"},{"offset":0.2,"color":"#000"},{"offset":0.2,"color":"#fff"},
          {"offset":0.3,"color":"#fff"},{"offset":0.3,"color":"#000"},{"offset":0.325,"color":"#000"},{"offset":0.325,"color":"#fff"},
          {"offset":0.425,"color":"#fff"},{"offset":0.425,"color":"#000"},{"offset":0.45,"color":"#000"},{"offset":0.45,"color":"#fff"},
          {"offset":0.55,"color":"#fff"},{"offset":0.55,"color":"#000"},{"offset":0.575,"color":"#000"},{"offset":0.575,"color":"#fff"},
          {"offset":0.675,"color":"#fff"},{"offset":0.675,"color":"#000"},{"offset":0.7,"color":"#000"},{"offset":0.7,"color":"#fff"},
          {"offset":0.8,"color":"#fff"},{"offset":0.8,"color":"#000"},{"offset":0.825,"color":"#000"},{"offset":0.825,"color":"#fff"},
          {"offset":0.925,"color":"#fff"},{"offset":0.925,"color":"#000"},{"offset":0.95,"color":"#000"},{"offset":0.95,"color":"#fff"},
          {"offset":1,"color":"#fff"}]}},
         "encoding": {"y": {"field": "lpo", "type": "quantitative", "title": "LPO (nmol/mg protein)"}}},
        {"mark": {"type": "rule", "color": "black", "strokeWidth": 1.5}, "encoding": {"y": {"field": "lpo", "type": "quantitative", "title": "LPO (nmol/mg protein)"}, "y2": {"field": "hi"}}},
        {"mark": {"type": "tick", "color": "black", "thickness": 2, "size": 15, "opacity": 1}, "encoding": {"y": {"field": "hi", "type": "quantitative", "title": "LPO (nmol/mg protein)"}}},
        {"transform": [{"filter": "datum.sig == 1 && datum.mel == 'no'"}], "mark": {"type": "point", "shape": "circle", "filled": true, "color": "black", "opacity": 1, "size": 190, "yOffset": -20}, "encoding": {"y": {"field": "hi", "type": "quantitative", "title": "LPO (nmol/mg protein)"}}},
        {"transform": [{"filter": "datum.sig == 1 && datum.mel == 'yes'"}], "mark": {"type": "text", "text": "*", "fontSize": 38, "baseline": "alphabetic", "dy": 6, "color": "black"}, "encoding": {"y": {"field": "hi", "type": "quantitative", "title": "LPO (nmol/mg protein)"}}}
      ]
    },
    {
      "width": 750, "height": 539,
      "title": {"text": "Liver", "offset": -58},
      "transform": [{"filter": "datum.organ == 'Liver'"}],
      "encoding": {
        "x": {"field": "conc", "type": "ordinal", "title": "Fe²⁺ [μM]", "scale": {"paddingInner": 0.31, "paddingOuter": 0.78}},
        "xOffset": {"field": "mel", "type": "nominal", "scale": {"domain": ["no", "yes"]}}
      },
      "layer": [
        {"mark": {"type": "bar", "stroke": "black", "strokeWidth": 1.5},
         "encoding": {
           "y": {"field": "lpo", "type": "quantitative", "title": "LPO (nmol/mg protein)", "scale": {"domain": [0, 10], "nice": false}, "axis": {"values": [0, 2, 4, 6, 8, 10]}},
           "fill": {"field": "group", "type": "nominal", "scale": {"domain": ["control", "melatonin [5 mM]", "Fe²⁺", "Fe²⁺+ melatonin [5 mM]"], "range": ["#ffffff", "#c0c0c0", "#000000", "#ffffff"]}, "legend": null}
         }},
        {"transform": [{"filter": "datum.mel == 'yes' && datum.conc > 0 && datum.lpo < 0.4"}],
         "mark": {"type": "bar", "stroke": "black", "strokeWidth": 1.5, "fill": {"gradient": "linear", "x1": 0, "y1": 0, "x2": 0.833, "y2": 1.124, "stops": [
          {"offset":0,"color":"#fff"},
          {"offset":0.1,"color":"#fff"},{"offset":0.1,"color":"#000"},{"offset":0.15,"color":"#000"},{"offset":0.15,"color":"#fff"},
          {"offset":0.35,"color":"#fff"},{"offset":0.35,"color":"#000"},{"offset":0.4,"color":"#000"},{"offset":0.4,"color":"#fff"},
          {"offset":0.6,"color":"#fff"},{"offset":0.6,"color":"#000"},{"offset":0.65,"color":"#000"},{"offset":0.65,"color":"#fff"},
          {"offset":0.85,"color":"#fff"},{"offset":0.85,"color":"#000"},{"offset":0.9,"color":"#000"},{"offset":0.9,"color":"#fff"},
          {"offset":1,"color":"#fff"}]}},
         "encoding": {"y": {"field": "lpo", "type": "quantitative", "title": "LPO (nmol/mg protein)"}}},
        {"transform": [{"filter": "datum.mel == 'yes' && datum.conc > 0 && datum.lpo >= 0.4"}],
         "mark": {"type": "bar", "stroke": "black", "strokeWidth": 1.5, "fill": {"gradient": "linear", "x1": 0, "y1": 0, "x2": 0.536, "y2": 1.206, "stops": [
          {"offset":0,"color":"#fff"},
          {"offset":0.08,"color":"#fff"},{"offset":0.08,"color":"#000"},{"offset":0.12,"color":"#000"},{"offset":0.12,"color":"#fff"},
          {"offset":0.28,"color":"#fff"},{"offset":0.28,"color":"#000"},{"offset":0.32,"color":"#000"},{"offset":0.32,"color":"#fff"},
          {"offset":0.48,"color":"#fff"},{"offset":0.48,"color":"#000"},{"offset":0.52,"color":"#000"},{"offset":0.52,"color":"#fff"},
          {"offset":0.68,"color":"#fff"},{"offset":0.68,"color":"#000"},{"offset":0.72,"color":"#000"},{"offset":0.72,"color":"#fff"},
          {"offset":0.88,"color":"#fff"},{"offset":0.88,"color":"#000"},{"offset":0.92,"color":"#000"},{"offset":0.92,"color":"#fff"},
          {"offset":1,"color":"#fff"}]}},
         "encoding": {"y": {"field": "lpo", "type": "quantitative", "title": "LPO (nmol/mg protein)"}}},
        {"mark": {"type": "rule", "color": "black", "strokeWidth": 1.5}, "encoding": {"y": {"field": "lpo", "type": "quantitative", "title": "LPO (nmol/mg protein)"}, "y2": {"field": "hi"}}},
        {"mark": {"type": "tick", "color": "black", "thickness": 2, "size": 15, "opacity": 1}, "encoding": {"y": {"field": "hi", "type": "quantitative", "title": "LPO (nmol/mg protein)"}}},
        {"transform": [{"filter": "datum.sig == 1 && datum.mel == 'no'"}], "mark": {"type": "point", "shape": "circle", "filled": true, "color": "black", "opacity": 1, "size": 190, "yOffset": -20}, "encoding": {"y": {"field": "hi", "type": "quantitative", "title": "LPO (nmol/mg protein)"}}},
        {"transform": [{"filter": "datum.sig == 1 && datum.mel == 'yes'"}], "mark": {"type": "text", "text": "*", "fontSize": 38, "baseline": "alphabetic", "dy": 6, "color": "black"}, "encoding": {"y": {"field": "hi", "type": "quantitative", "title": "LPO (nmol/mg protein)"}}}
      ]
    },
    {
      "width": 750, "height": 539,
      "title": {"text": "Kidney", "offset": -58},
      "transform": [{"filter": "datum.organ == 'Kidney'"}],
      "encoding": {
        "x": {"field": "conc", "type": "ordinal", "title": "Fe²⁺ [μM]", "scale": {"paddingInner": 0.31, "paddingOuter": 0.78}},
        "xOffset": {"field": "mel", "type": "nominal", "scale": {"domain": ["no", "yes"]}}
      },
      "layer": [
        {"mark": {"type": "bar", "stroke": "black", "strokeWidth": 1.5},
         "encoding": {
           "y": {"field": "lpo", "type": "quantitative", "title": "LPO (nmol/mg protein)", "scale": {"domain": [0, 8], "nice": false}, "axis": {"values": [0, 2, 4, 6, 8]}},
           "fill": {"field": "group", "type": "nominal", "scale": {"domain": ["control", "melatonin [5 mM]", "Fe²⁺", "Fe²⁺+ melatonin [5 mM]"], "range": ["#ffffff", "#c0c0c0", "#000000", "#ffffff"]}, "legend": null}
         }},
        {"transform": [{"filter": "datum.mel == 'yes' && datum.conc > 0 && datum.lpo < 0.4"}],
         "mark": {"type": "bar", "stroke": "black", "strokeWidth": 1.5, "fill": {"gradient": "linear", "x1": 0, "y1": 0, "x2": 0.833, "y2": 1.124, "stops": [
          {"offset":0,"color":"#fff"},
          {"offset":0.1,"color":"#fff"},{"offset":0.1,"color":"#000"},{"offset":0.15,"color":"#000"},{"offset":0.15,"color":"#fff"},
          {"offset":0.35,"color":"#fff"},{"offset":0.35,"color":"#000"},{"offset":0.4,"color":"#000"},{"offset":0.4,"color":"#fff"},
          {"offset":0.6,"color":"#fff"},{"offset":0.6,"color":"#000"},{"offset":0.65,"color":"#000"},{"offset":0.65,"color":"#fff"},
          {"offset":0.85,"color":"#fff"},{"offset":0.85,"color":"#000"},{"offset":0.9,"color":"#000"},{"offset":0.9,"color":"#fff"},
          {"offset":1,"color":"#fff"}]}},
         "encoding": {"y": {"field": "lpo", "type": "quantitative", "title": "LPO (nmol/mg protein)"}}},
        {"transform": [{"filter": "datum.mel == 'yes' && datum.conc > 0 && datum.lpo >= 0.4 && datum.lpo < 0.6"}],
         "mark": {"type": "bar", "stroke": "black", "strokeWidth": 1.5, "fill": {"gradient": "linear", "x1": 0, "y1": 0, "x2": 0.536, "y2": 1.206, "stops": [
          {"offset":0,"color":"#fff"},
          {"offset":0.08,"color":"#fff"},{"offset":0.08,"color":"#000"},{"offset":0.12,"color":"#000"},{"offset":0.12,"color":"#fff"},
          {"offset":0.28,"color":"#fff"},{"offset":0.28,"color":"#000"},{"offset":0.32,"color":"#000"},{"offset":0.32,"color":"#fff"},
          {"offset":0.48,"color":"#fff"},{"offset":0.48,"color":"#000"},{"offset":0.52,"color":"#000"},{"offset":0.52,"color":"#fff"},
          {"offset":0.68,"color":"#fff"},{"offset":0.68,"color":"#000"},{"offset":0.72,"color":"#000"},{"offset":0.72,"color":"#fff"},
          {"offset":0.88,"color":"#fff"},{"offset":0.88,"color":"#000"},{"offset":0.92,"color":"#000"},{"offset":0.92,"color":"#fff"},
          {"offset":1,"color":"#fff"}]}},
         "encoding": {"y": {"field": "lpo", "type": "quantitative", "title": "LPO (nmol/mg protein)"}}},
        {"transform": [{"filter": "datum.mel == 'yes' && datum.conc > 0 && datum.lpo >= 0.6"}],
         "mark": {"type": "bar", "stroke": "black", "strokeWidth": 1.5, "fill": {"gradient": "linear", "x1": 0, "y1": 0, "x2": 0.374, "y2": 1.196, "stops": [
          {"offset":0,"color":"#fff"},
          {"offset":0.067,"color":"#fff"},{"offset":0.067,"color":"#000"},{"offset":0.1,"color":"#000"},{"offset":0.1,"color":"#fff"},
          {"offset":0.233,"color":"#fff"},{"offset":0.233,"color":"#000"},{"offset":0.267,"color":"#000"},{"offset":0.267,"color":"#fff"},
          {"offset":0.4,"color":"#fff"},{"offset":0.4,"color":"#000"},{"offset":0.433,"color":"#000"},{"offset":0.433,"color":"#fff"},
          {"offset":0.567,"color":"#fff"},{"offset":0.567,"color":"#000"},{"offset":0.6,"color":"#000"},{"offset":0.6,"color":"#fff"},
          {"offset":0.733,"color":"#fff"},{"offset":0.733,"color":"#000"},{"offset":0.767,"color":"#000"},{"offset":0.767,"color":"#fff"},
          {"offset":0.9,"color":"#fff"},{"offset":0.9,"color":"#000"},{"offset":0.933,"color":"#000"},{"offset":0.933,"color":"#fff"},
          {"offset":1,"color":"#fff"}]}},
         "encoding": {"y": {"field": "lpo", "type": "quantitative", "title": "LPO (nmol/mg protein)"}}},
        {"mark": {"type": "rule", "color": "black", "strokeWidth": 1.5}, "encoding": {"y": {"field": "lpo", "type": "quantitative", "title": "LPO (nmol/mg protein)"}, "y2": {"field": "hi"}}},
        {"mark": {"type": "tick", "color": "black", "thickness": 2, "size": 15, "opacity": 1}, "encoding": {"y": {"field": "hi", "type": "quantitative", "title": "LPO (nmol/mg protein)"}}},
        {"transform": [{"filter": "datum.sig == 1 && datum.mel == 'no'"}], "mark": {"type": "point", "shape": "circle", "filled": true, "color": "black", "opacity": 1, "size": 190, "yOffset": -20}, "encoding": {"y": {"field": "hi", "type": "quantitative", "title": "LPO (nmol/mg protein)"}}},
        {"transform": [{"filter": "datum.sig == 1 && datum.mel == 'yes'"}], "mark": {"type": "text", "text": "*", "fontSize": 38, "baseline": "alphabetic", "dy": 6, "color": "black"}, "encoding": {"y": {"field": "hi", "type": "quantitative", "title": "LPO (nmol/mg protein)"}}}
      ]
    },
    {
      "width": 750, "height": 539,
      "title": {"text": "Intestine", "offset": -58},
      "transform": [{"filter": "datum.organ == 'Intestine'"}],
      "encoding": {
        "x": {"field": "conc", "type": "ordinal", "title": "Fe²⁺ [μM]", "scale": {"paddingInner": 0.31, "paddingOuter": 0.78}},
        "xOffset": {"field": "mel", "type": "nominal", "scale": {"domain": ["no", "yes"]}}
      },
      "layer": [
        {"mark": {"type": "bar", "stroke": "black", "strokeWidth": 1.5},
         "encoding": {
           "y": {"field": "lpo", "type": "quantitative", "title": "LPO (nmol/mg protein)", "scale": {"domain": [0, 8], "nice": false}, "axis": {"values": [0, 2, 4, 6, 8]}},
           "fill": {"field": "group", "type": "nominal", "scale": {"domain": ["control", "melatonin [5 mM]", "Fe²⁺", "Fe²⁺+ melatonin [5 mM]"], "range": ["#ffffff", "#c0c0c0", "#000000", "#ffffff"]}, "legend": null}
         }},
        {"transform": [{"filter": "datum.mel == 'yes' && datum.conc > 0 && datum.lpo < 0.4"}],
         "mark": {"type": "bar", "stroke": "black", "strokeWidth": 1.5, "fill": {"gradient": "linear", "x1": 0, "y1": 0, "x2": 0.833, "y2": 1.124, "stops": [
          {"offset":0,"color":"#fff"},
          {"offset":0.1,"color":"#fff"},{"offset":0.1,"color":"#000"},{"offset":0.15,"color":"#000"},{"offset":0.15,"color":"#fff"},
          {"offset":0.35,"color":"#fff"},{"offset":0.35,"color":"#000"},{"offset":0.4,"color":"#000"},{"offset":0.4,"color":"#fff"},
          {"offset":0.6,"color":"#fff"},{"offset":0.6,"color":"#000"},{"offset":0.65,"color":"#000"},{"offset":0.65,"color":"#fff"},
          {"offset":0.85,"color":"#fff"},{"offset":0.85,"color":"#000"},{"offset":0.9,"color":"#000"},{"offset":0.9,"color":"#fff"},
          {"offset":1,"color":"#fff"}]}},
         "encoding": {"y": {"field": "lpo", "type": "quantitative", "title": "LPO (nmol/mg protein)"}}},
        {"transform": [{"filter": "datum.mel == 'yes' && datum.conc > 0 && datum.lpo >= 0.4 && datum.lpo < 0.6"}],
         "mark": {"type": "bar", "stroke": "black", "strokeWidth": 1.5, "fill": {"gradient": "linear", "x1": 0, "y1": 0, "x2": 0.536, "y2": 1.206, "stops": [
          {"offset":0,"color":"#fff"},
          {"offset":0.08,"color":"#fff"},{"offset":0.08,"color":"#000"},{"offset":0.12,"color":"#000"},{"offset":0.12,"color":"#fff"},
          {"offset":0.28,"color":"#fff"},{"offset":0.28,"color":"#000"},{"offset":0.32,"color":"#000"},{"offset":0.32,"color":"#fff"},
          {"offset":0.48,"color":"#fff"},{"offset":0.48,"color":"#000"},{"offset":0.52,"color":"#000"},{"offset":0.52,"color":"#fff"},
          {"offset":0.68,"color":"#fff"},{"offset":0.68,"color":"#000"},{"offset":0.72,"color":"#000"},{"offset":0.72,"color":"#fff"},
          {"offset":0.88,"color":"#fff"},{"offset":0.88,"color":"#000"},{"offset":0.92,"color":"#000"},{"offset":0.92,"color":"#fff"},
          {"offset":1,"color":"#fff"}]}},
         "encoding": {"y": {"field": "lpo", "type": "quantitative", "title": "LPO (nmol/mg protein)"}}},
        {"transform": [{"filter": "datum.mel == 'yes' && datum.conc > 0 && datum.lpo >= 0.6 && datum.lpo < 0.85"}],
         "mark": {"type": "bar", "stroke": "black", "strokeWidth": 1.5, "fill": {"gradient": "linear", "x1": 0, "y1": 0, "x2": 0.374, "y2": 1.196, "stops": [
          {"offset":0,"color":"#fff"},
          {"offset":0.067,"color":"#fff"},{"offset":0.067,"color":"#000"},{"offset":0.1,"color":"#000"},{"offset":0.1,"color":"#fff"},
          {"offset":0.233,"color":"#fff"},{"offset":0.233,"color":"#000"},{"offset":0.267,"color":"#000"},{"offset":0.267,"color":"#fff"},
          {"offset":0.4,"color":"#fff"},{"offset":0.4,"color":"#000"},{"offset":0.433,"color":"#000"},{"offset":0.433,"color":"#fff"},
          {"offset":0.567,"color":"#fff"},{"offset":0.567,"color":"#000"},{"offset":0.6,"color":"#000"},{"offset":0.6,"color":"#fff"},
          {"offset":0.733,"color":"#fff"},{"offset":0.733,"color":"#000"},{"offset":0.767,"color":"#000"},{"offset":0.767,"color":"#fff"},
          {"offset":0.9,"color":"#fff"},{"offset":0.9,"color":"#000"},{"offset":0.933,"color":"#000"},{"offset":0.933,"color":"#fff"},
          {"offset":1,"color":"#fff"}]}},
         "encoding": {"y": {"field": "lpo", "type": "quantitative", "title": "LPO (nmol/mg protein)"}}},
        {"transform": [{"filter": "datum.mel == 'yes' && datum.conc > 0 && datum.lpo >= 0.85"}],
         "mark": {"type": "bar", "stroke": "black", "strokeWidth": 1.5, "fill": {"gradient": "linear", "x1": 0, "y1": 0, "x2": 0.259, "y2": 1.165, "stops": [
          {"offset":0,"color":"#fff"},
          {"offset":0.05,"color":"#fff"},{"offset":0.05,"color":"#000"},{"offset":0.075,"color":"#000"},{"offset":0.075,"color":"#fff"},
          {"offset":0.175,"color":"#fff"},{"offset":0.175,"color":"#000"},{"offset":0.2,"color":"#000"},{"offset":0.2,"color":"#fff"},
          {"offset":0.3,"color":"#fff"},{"offset":0.3,"color":"#000"},{"offset":0.325,"color":"#000"},{"offset":0.325,"color":"#fff"},
          {"offset":0.425,"color":"#fff"},{"offset":0.425,"color":"#000"},{"offset":0.45,"color":"#000"},{"offset":0.45,"color":"#fff"},
          {"offset":0.55,"color":"#fff"},{"offset":0.55,"color":"#000"},{"offset":0.575,"color":"#000"},{"offset":0.575,"color":"#fff"},
          {"offset":0.675,"color":"#fff"},{"offset":0.675,"color":"#000"},{"offset":0.7,"color":"#000"},{"offset":0.7,"color":"#fff"},
          {"offset":0.8,"color":"#fff"},{"offset":0.8,"color":"#000"},{"offset":0.825,"color":"#000"},{"offset":0.825,"color":"#fff"},
          {"offset":0.925,"color":"#fff"},{"offset":0.925,"color":"#000"},{"offset":0.95,"color":"#000"},{"offset":0.95,"color":"#fff"},
          {"offset":1,"color":"#fff"}]}},
         "encoding": {"y": {"field": "lpo", "type": "quantitative", "title": "LPO (nmol/mg protein)"}}},
        {"mark": {"type": "rule", "color": "black", "strokeWidth": 1.5}, "encoding": {"y": {"field": "lpo", "type": "quantitative", "title": "LPO (nmol/mg protein)"}, "y2": {"field": "hi"}}},
        {"mark": {"type": "tick", "color": "black", "thickness": 2, "size": 15, "opacity": 1}, "encoding": {"y": {"field": "hi", "type": "quantitative", "title": "LPO (nmol/mg protein)"}}},
        {"transform": [{"filter": "datum.sig == 1 && datum.mel == 'no'"}], "mark": {"type": "point", "shape": "circle", "filled": true, "color": "black", "opacity": 1, "size": 190, "yOffset": -20}, "encoding": {"y": {"field": "hi", "type": "quantitative", "title": "LPO (nmol/mg protein)"}}},
        {"transform": [{"filter": "datum.sig == 1 && datum.mel == 'yes'"}], "mark": {"type": "text", "text": "*", "fontSize": 38, "baseline": "alphabetic", "dy": 6, "color": "black"}, "encoding": {"y": {"field": "hi", "type": "quantitative", "title": "LPO (nmol/mg protein)"}}}
      ]
    }
  ],
  "config": {
    "font": "Liberation Sans",
    "view": {"stroke": "black", "strokeWidth": 1.5},
    "axis": {"grid": false, "domainColor": "black", "domainWidth": 1.5, "tickColor": "black", "tickWidth": 1.5,
             "labelColor": "black", "titleColor": "black", "labelFont": "Liberation Sans", "titleFont": "Liberation Sans"},
    "axisY": {"format": "d", "tickSize": 9, "labelPadding": 10, "labelFontSize": 22, "titleFontSize": 29, "titleFontWeight": "bold",
              "titleX": -44, "titleY": 254, "titleAngle": -90, "titleBaseline": "alphabetic", "titleAlign": "center"},
    "axisX": {"ticks": false, "labelAngle": 90, "labelFontSize": 22, "labelPadding": 13, "labelOverlap": false,
              "titleFontSize": 28, "titleFontWeight": "bold", "titleX": -112, "titleY": 34, "titleAngle": 0,
              "titleAlign": "left", "titleBaseline": "alphabetic"},
    "title": {"anchor": "start", "frame": "group", "fontSize": 32, "fontWeight": "bold", "color": "black",
              "dx": 17, "lineHeight": 31},
    "legend": {"labelFont": "Liberation Sans"}
  }
}
